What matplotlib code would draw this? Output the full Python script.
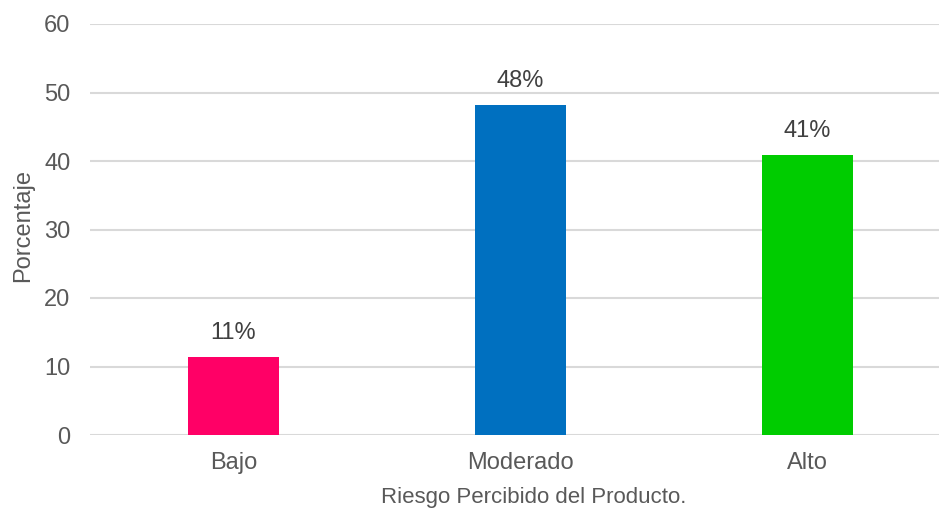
import matplotlib
matplotlib.use("Agg")
import matplotlib.pyplot as plt

categories = ["Bajo", "Moderado", "Alto"]
values = [11.4, 48.2, 40.9]
bar_colors = ["#ff0066", "#0070c0", "#00cc00"]
yticks = [0, 10, 20, 30, 40, 50, 60]

plt.rcParams['font.family'] = ['Liberation Sans', 'DejaVu Sans']

fig = plt.figure(figsize=(9.39, 5.09), dpi=100)
# plot area runs a bit past the right edge, like the original export
ax = fig.add_axes([90 / 939, 74 / 509, 861 / 939, 411 / 509])

x = range(len(categories))
bars = ax.bar(x, values, width=0.314, color=bar_colors, zorder=3)

for b, v in zip(bars, values):
    ax.annotate(f"{v:.0f}%", (b.get_x() + b.get_width() / 2, v),
                xytext=(0, 9), textcoords="offset points",
                ha="center", va="bottom", fontsize=17, color="#404040")

ax.set_xlim(-0.5, 2.5)
ax.set_ylim(0, 60)
ax.set_yticks(yticks)
ax.set_xticks(list(x))
ax.set_xticklabels(categories)
ax.grid(axis="y", color="#d9d9d9", lw=1.5, zorder=0)
ax.tick_params(axis="both", length=0, labelsize=17, colors="#595959")
ax.tick_params(axis="y", pad=14)
ax.tick_params(axis="x", pad=12)
for s in ax.spines.values():
    s.set_visible(False)

ax.set_ylabel("Porcentaje", fontsize=17, color="#595959")
ax.yaxis.set_label_coords(-56 / 861, 0.51)
fig.text(534 / 939, 12 / 509, "Riesgo Percibido del Producto.", ha="center",
         va="center", fontsize=16, color="#595959")

fig.savefig("out.png", dpi=100)
